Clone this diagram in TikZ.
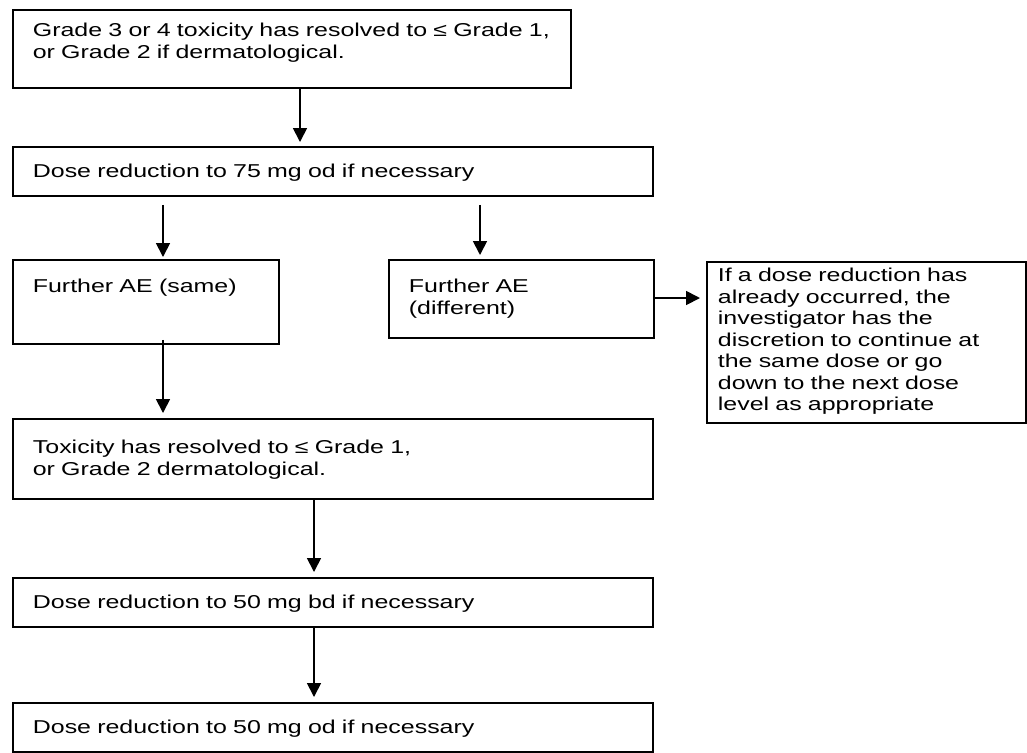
\documentclass[tikz,border=0pt]{standalone}
\usepackage{fontspec}
\setmainfont{Liberation Sans}[FakeStretch=1.34]
\usetikzlibrary{arrows.meta}
\newcommand{\boxfont}{\fontsize{10.6pt}{12.2pt}\selectfont}
\tikzset{
  stepbox/.style={
    draw=black, line width=1pt, anchor=north west, align=left,
    inner xsep=0.4cm, inner ysep=0pt, font=\boxfont
  },
  notebox/.style={
    stepbox, inner xsep=0.22cm
  },
  flow/.style={
    draw=black, line width=1pt, -{Triangle[width=0.28cm,length=0.28cm]}
  }
}

\begin{document}
\begin{tikzpicture}[x=0.02cm, y=-0.02cm]
\useasboundingbox (0,0) rectangle (1027,752);

% top: resolved toxicity, first reduction
\node[stepbox, text width=10.36cm, text height=0.54cm, text depth=1.02cm] (grade34) at (12,9)
  {Grade 3 or 4 toxicity has resolved to ≤ Grade 1,\\or Grade 2 if dermatological.};
\node[stepbox, text width=12cm, text height=0.62cm, text depth=0.36cm] (dose75) at (12,146)
  {Dose reduction to 75 mg od if necessary};

% middle: the two kinds of further AE
\node[stepbox, text width=4.52cm, text height=0.66cm, text depth=1.02cm] (aesame) at (12,259)
  {Further AE (same)};
\node[stepbox, text width=4.5cm, text height=0.66cm, text depth=0.9cm] (aediff) at (388,259)
  {Further AE\\(different)};
\node[notebox, text width=5.94cm, text height=0.4cm, text depth=2.82cm] (discretion) at (706,261)
  {If a dose reduction has\\already occurred, the\\investigator has the\\discretion to continue at\\the same dose or go\\down to the next dose\\level as appropriate};

% bottom: further reductions
\node[stepbox, text width=12cm, text height=0.7cm, text depth=0.9cm] (resolved) at (12,418)
  {Toxicity has resolved to ≤ Grade 1,\\or Grade 2 dermatological.};
\node[stepbox, text width=12cm, text height=0.62cm, text depth=0.36cm] (dose50bd) at (12,577)
  {Dose reduction to 50 mg bd if necessary};
\node[stepbox, text width=12cm, text height=0.62cm, text depth=0.36cm] (dose50od) at (12,702)
  {Dose reduction to 50 mg od if necessary};

\draw[flow, shorten >=0.08cm] (grade34.south -| 300,0) -- (dose75.north -| 300,0);
\draw[flow, shorten <=0.16cm, shorten >=0.04cm] (dose75.south -| 163,0) -- (aesame.north -| 163,0);
\draw[flow, shorten <=0.16cm, shorten >=0.08cm] (dose75.south -| 480,0) -- (aediff.north -| 480,0);
\draw[flow, shorten <=-0.1cm, shorten >=0.1cm] (aesame.south -| 163,0) -- (resolved.north -| 163,0);
\draw[flow, shorten >=0.12cm] (aediff.east |- 0,298) -- (discretion.west |- 0,298);
\draw[flow, shorten >=0.1cm] (resolved.south -| 314,0) -- (dose50bd.north -| 314,0);
\draw[flow, shorten >=0.1cm] (dose50bd.south -| 314,0) -- (dose50od.north -| 314,0);

\end{tikzpicture}
\end{document}
